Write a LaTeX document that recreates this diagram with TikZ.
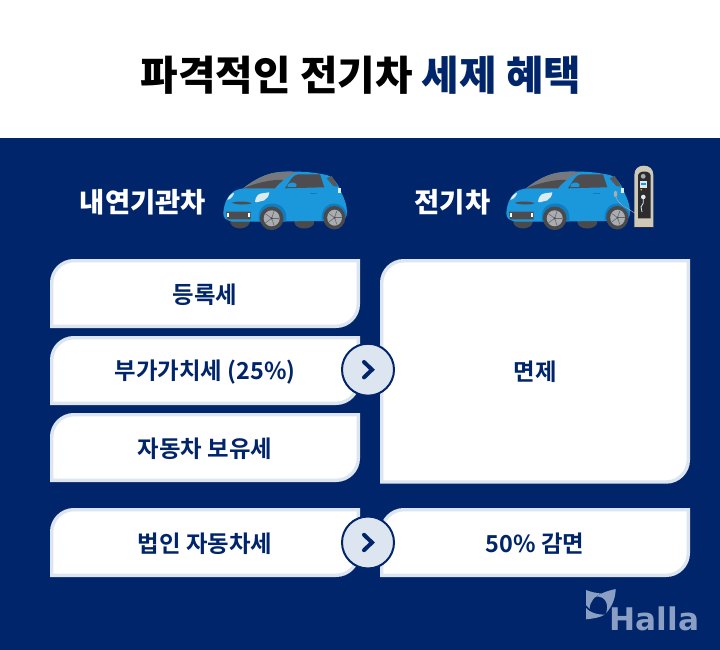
\documentclass[tikz,border=0pt]{standalone}
\usepackage{fontspec}
\setmainfont{Noto Sans CJK KR}[BoldFont={Noto Sans CJK KR Bold}]
\newfontfamily\blackfont{Noto Sans CJK KR Black}
\newfontfamily\logofont{DejaVu Sans}[BoldFont={DejaVu Sans Bold}]
\definecolor{navy}{HTML}{00256A}
\definecolor{edgeblue}{HTML}{DCE5F0}
\definecolor{carblue}{HTML}{1B97DC}
\definecolor{cardark}{HTML}{117CBE}
\definecolor{glassgrey}{HTML}{4E4C4E}
\definecolor{roofgrey}{HTML}{77787C}
\definecolor{tyre}{HTML}{4A4A4C}
\definecolor{hubgrey}{HTML}{A9ACB0}
\definecolor{lampwhite}{HTML}{DCEBF2}
\definecolor{logoblue}{HTML}{8B9FC4}
\definecolor{postbeige}{HTML}{CFC9B8}
\tikzset{
  px/.style={x=1pt,y=-1pt},
  cardbox/.style={fill=white,draw=edgeblue,line width=3.4pt,line join=miter},
  cardtext/.style={font=\fontsize{23.4}{28}\selectfont\bfseries,text=navy,inner sep=0pt,anchor=center},
  headtext/.style={font=\fontsize{27.4}{32}\blackfont\selectfont,text=white,inner sep=0pt,anchor=center},
  roundarrow/.style={circle,fill=edgeblue,draw=navy,line width=2pt,minimum size=52pt,inner sep=0pt},
  chevronline/.style={draw=navy,line width=4pt,line cap=round,line join=miter},
}
\newcommand{\cardshape}[4]{%
  \draw[cardbox] (#1+22,#2) -- (#3,#2) -- (#3,#4-22) .. controls (#3,#4-10) and (#3-10,#4) .. (#3-22,#4) -- (#1,#4) -- (#1,#2+22) .. controls (#1,#2+10) and (#1+10,#2) .. (#1+22,#2) -- cycle;}
\newcommand{\wheelset}{%
  \fill[tyre] (48.7,50.3) circle (11.8);
  \fill[tyre] (111.3,49.7) ellipse (11 and 11.8);
  \fill[hubgrey] (48.7,50.3) circle (8);
  \fill[hubgrey] (111.6,49.7) ellipse (7.4 and 8);
  \foreach \a in {0,72,144,216,288} {
    \draw[tyre!70!hubgrey,line width=.6pt] (48.7,50.3) -- ++(\a:7.6);
    \draw[tyre!70!hubgrey,line width=.6pt] (111.6,49.7) -- ++(\a:7);
  }
  \fill[tyre] (48.7,50.3) circle (1.2);
  \fill[tyre] (111.6,49.7) circle (1.1);}
\newcommand{\caricon}[2]{%
\begin{scope}[shift={(#1,#2)},px]
  \fill[tyre] (17,53) ellipse (10 and 7.5);
  \fill[tyre] (81.3,54) ellipse (10 and 6.5);
  \fill[carblue] (0.3,45) .. controls (1,36) and (4,28) .. (10.3,23.7) .. controls (14,21.5) and (17,21) .. (20.3,20.3) .. controls (28,14) and (38,8) .. (48.7,5.3) .. controls (58,3.2) and (66,3.2) .. (73.7,3.7) .. controls (84,3.6) and (94,5) .. (103.7,7) .. controls (108,8.5) and (111,11) .. (113.7,15.3) .. controls (116,19) and (118,22) .. (118.7,25.3) .. controls (121,30) and (123,35) .. (123.7,40.3) .. controls (124,45) and (124,48) .. (122,50.3) -- (110,53) -- (10,53.7) .. controls (3,52.5) and (0,50) .. (0.3,45) -- cycle;
  \fill[roofgrey] (20.3,20.3) .. controls (28,14) and (38,8) .. (48.7,5.3) .. controls (58,3.8) and (66,3.8) .. (73,4.3) .. controls (68,7) and (64,9.5) .. (60.3,12) .. controls (57,15) and (54,17.5) .. (52,20.3) -- cycle;
  \fill[glassgrey] (20.3,20.3) .. controls (30,16) and (48,11) .. (60.3,12) .. controls (57,15) and (54,17.5) .. (52,20.3) -- cycle;
  \fill[glassgrey] (62,20.3) -- (68.7,10.3) .. controls (70.5,8) and (72.5,6.8) .. (75.3,6.3) -- (97,6.3) -- (101.3,19.3) -- cycle;
  \fill[carblue] (64.3,18.8) .. controls (64.5,15.5) and (68,13.5) .. (72,15) .. controls (74,15.5) and (74,18) .. (73,18.8) -- cycle;
  \fill[glassgrey!75!roofgrey] (103.7,10.3) -- (108.7,8) .. controls (111,11) and (113,15) .. (114.7,18.7) -- (110.3,18) -- cycle;
  \fill[lampwhite] (32,33.7) .. controls (32.5,29) and (35,26) .. (38,25.5) -- (46.3,24.3) .. controls (46,28) and (44,31) .. (41,32.5) -- (33.7,34.3) -- cycle;
  \fill[lampwhite] (4.3,32) .. controls (5.5,28.5) and (8,25.5) .. (11,24.7) .. controls (11,27.5) and (8,31) .. (4.3,32) -- cycle;
  \fill[glassgrey] (8.7,34.8) .. controls (14,33) and (24,33) .. (28.7,35.3) .. controls (24,37) and (14,37) .. (8.7,34.8) -- cycle;
  \fill[glassgrey] (3,43.7) -- (27.7,43.7) -- (27.7,51.3) -- (4,51.3) -- cycle;
  \fill[white] (3.6,45.2) rectangle (5.6,49.4);
  \fill[white] (25,45.2) rectangle (27,49.4);
  \fill[lampwhite] (115,20.3) rectangle (118.4,24.8);
  \fill[cardark] (36,53.7) .. controls (34,40) and (42,35.5) .. (49,35.5) .. controls (58,35.5) and (65,42) .. (63,53.7) -- cycle;
  \fill[cardark] (98.5,52.5) .. controls (98,40) and (105,35.5) .. (111.5,35.5) .. controls (118,35.5) and (124,42) .. (123.8,47) -- (122,51) -- cycle;
  \draw[cardark,line width=.5pt] (87,25) -- (94,25);
  \wheelset
\end{scope}}
\begin{document}
\begin{tikzpicture}[px]
\useasboundingbox (0,0) rectangle (720,650);
\fill[white] (0,0) rectangle (720,650);
\fill[navy] (0,138) rectangle (720,650);
\node[inner sep=0pt,font=\fontsize{40.8}{48}\blackfont\selectfont] (title) at (361,75) {파격적인 전기차 \textcolor{navy}{세제 혜택}};
\node[headtext] (hl) at (143,202) {내연기관차};
\node[headtext] (hr) at (452.5,202) {전기차};
\caricon{223}{168}
\caricon{506}{168}
% charge port and cable
\fill[hubgrey] (615.5,194) ellipse (1.8 and 3.2);
\draw[hubgrey,line width=.5pt] (616,197) .. controls (619,206) and (628,208) .. (633,212) .. controls (637,215) and (640,214) .. (643,206);
% charger
\fill[postbeige] (634.4,227.3) -- (634.4,175) .. controls (634.4,169) and (638,165.7) .. (643.8,165.7) .. controls (649.5,165.7) and (653.3,169) .. (653.3,175) -- (653.3,227.3) -- cycle;
\fill[tyre!60!black] (634.4,226.5) rectangle (653.3,227.3);
\fill[tyre!60!black] (638,176) .. controls (638,170) and (650.7,170) .. (650.7,176) -- (650.7,218.3) -- (638,218.3) -- cycle;
\fill[hubgrey] (643.2,176.3) circle (2.4);
\fill[lampwhite] (639.7,181) rectangle (647.3,187.7);
\fill[carblue] (641,182.5) rectangle (646,185);
\fill[yellow!70!brown] (641.2,189.8) circle (.8);
\fill[red!70!black] (645.8,189.8) circle (.8);
\fill[lampwhite] (643.3,197) circle (2.3);
\draw[lampwhite,line width=.8pt] (643.3,199) -- (643.3,203) -- (641,207) -- (642,212);
\cardshape{51.7}{260.7}{358.3}{326.3}
\cardshape{51.7}{337.7}{358.3}{403.3}
\cardshape{51.7}{414.7}{358.3}{480.3}
\cardshape{51.7}{509.7}{358.3}{575.3}
\cardshape{381.7}{260.7}{688.3}{482}
\cardshape{381.7}{509.7}{688.3}{575.3}
\node[cardtext] (a) at (205,294.5) {등록세};
\node[cardtext] (b) at (205,372) {부가가치세 (25\%)};
\node[cardtext] (c) at (205,449) {자동차 보유세};
\node[cardtext] (d) at (205,544) {법인 자동차세};
\node[cardtext] (e) at (535,372) {면제};
\node[cardtext] (f) at (535,544) {50\% 감면};
\node[roundarrow] (r1) at (368,369.7) {};
\node[roundarrow] (r2) at (368,542.5) {};
\draw[chevronline] (364,362) -- (372,369.7) -- (364,377.4);
\draw[chevronline] (364,534.8) -- (372,542.5) -- (364,550.2);
% logo
\fill[logoblue] (586,590) .. controls (591,592) and (596,593) .. (601,593.5) .. controls (595,596) and (590,601) .. (589.5,609) .. controls (588,607) and (587,606) .. (586,605) -- cycle;
\fill[logoblue] (615.7,589) .. controls (615.5,598) and (612,607) .. (606,613) .. controls (609,605) and (606,596) .. (596,596.5) .. controls (602,592.5) and (609,590.5) .. (615.7,589) -- cycle;
\fill[logoblue] (586,608) .. controls (589,612) and (597,615) .. (605,614.5) .. controls (600,617.5) and (594,618.5) .. (586,619.3) -- cycle;
\node[inner sep=0pt,anchor=base west,text=logoblue,font=\logofont\fontsize{31.2}{34}\selectfont\bfseries] (logo) at (609.5,630) {Halla};
\end{tikzpicture}
\end{document}
